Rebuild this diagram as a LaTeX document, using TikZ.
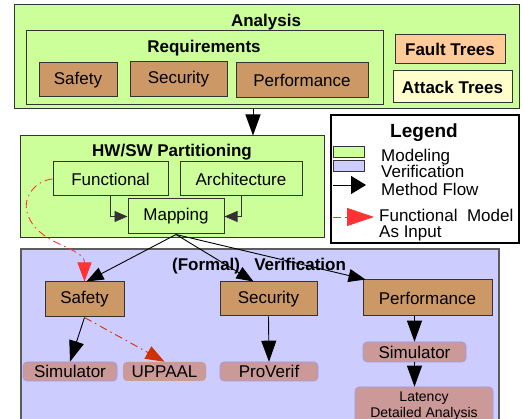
\documentclass[tikz,border=0pt]{standalone}
\usepackage{fontspec}
\setmainfont{Liberation Sans}
\usetikzlibrary{arrows.meta}

\definecolor{modelgreen}{HTML}{CCFF99}
\definecolor{verifblue}{HTML}{CCCCFF}
\definecolor{reqbrown}{HTML}{CC9966}
\definecolor{toolpink}{HTML}{CC9999}
\definecolor{faultorange}{HTML}{FFCC99}
\definecolor{attackyellow}{HTML}{FFFFCC}
\definecolor{inputred}{HTML}{FF3333}
\definecolor{uppaalred}{HTML}{CC3300}
\definecolor{boxline}{HTML}{333333}
\definecolor{toolline}{HTML}{9999EE}

\begin{document}
\begin{tikzpicture}[x=1pt,y=-1pt,
  font=\fontsize{17pt}{19pt}\selectfont,
  box/.style={draw=boxline,line width=1pt,inner sep=0pt,align=center},
  modelbox/.style={box,fill=modelgreen},
  reqbox/.style={box,fill=reqbrown},
  toolbox/.style={draw=toolline,line width=0.6pt,fill=toolpink,rounded corners=4pt,inner sep=0pt,align=center},
  title/.style={inner sep=0pt,font=\fontsize{17pt}{19pt}\selectfont\bfseries},
  keytext/.style={inner sep=0pt,anchor=west},
  flow/.style={-{Triangle[length=21pt,width=15pt]},line width=0.9pt},
  fanflow/.style={-{Triangle[length=17pt,width=13pt]},line width=0.9pt},
  mapflow/.style={-{Triangle[length=13pt,width=11pt]},line width=0.8pt,draw=boxline},
  modelinput/.style={-{Triangle[length=19pt,width=14pt]},color=inputred,line width=0.9pt,
    dash pattern=on 8pt off 4pt on 1.5pt off 4pt}]
  \useasboundingbox (0,0) rectangle (525,419);
  \clip (0,0) rectangle (525,419);

  % Analysis
  \node[modelbox,minimum width=505pt,minimum height=104pt] (analysis) at (266.5,57) {};
  \node[title] (analysistitle) at (266,22) {Analysis};
  \node[modelbox,minimum width=357pt,minimum height=74pt] (requirements) at (204.5,68) {};
  \node[title] (reqtitle) at (204,48) {Requirements};
  \node[reqbox,minimum width=78pt,minimum height=34pt] (safetyreq) at (78,80) {Safety};
  \node[reqbox,minimum width=97pt,minimum height=35pt] (securityreq) at (178.5,79.5) {Security};
  \node[reqbox,minimum width=132pt,minimum height=35pt] (perfreq) at (302,80.5) {Performance};
  \node[box,fill=faultorange,minimum width=110pt,minimum height=29pt,font=\fontsize{17pt}{19pt}\selectfont\bfseries] (faulttrees) at (450,49.5) {Fault Trees};
  \node[box,fill=attackyellow,minimum width=119pt,minimum height=32pt,font=\fontsize{17pt}{19pt}\selectfont\bfseries] (attacktrees) at (452.5,87) {Attack Trees};

  % HW/SW Partitioning
  \node[modelbox,minimum width=304pt,minimum height=102pt] (hwsw) at (172,187) {};
  \node[title] (hwswtitle) at (172,152) {HW/SW Partitioning};
  \node[modelbox,minimum width=115pt,minimum height=34pt] (functional) at (110.5,179) {Functional};
  \node[modelbox,minimum width=122pt,minimum height=34pt] (architecture) at (241,179) {Architecture};
  \node[modelbox,minimum width=96pt,minimum height=35pt] (mapping) at (176,216.5) {Mapping};

  % Legend
  \node[draw=black,line width=1.2pt,fill=white,minimum width=188pt,minimum height=128pt] (legend) at (425,179) {};
  \node[inner sep=0pt,font=\fontsize{19pt}{21pt}\selectfont\bfseries] (legendtitle) at (424,133) {Legend};
  \node[modelbox,minimum width=31pt,minimum height=11pt] (modelkey) at (348.5,152.5) {};
  \node[box,fill=verifblue,minimum width=31pt,minimum height=11pt] (verifkey) at (348.5,166.5) {};
  \node[keytext] (modeltext) at (381,157) {Modeling};
  \node[keytext] (veriftext) at (381,171) {Verification};
  \coordinate (flowstart) at (333,185);
  \coordinate (flowend) at (366,185);
  \node[keytext] (flowtext) at (381,189) {Method Flow};
  \coordinate (inputstart) at (333,217);
  \coordinate (inputend) at (374,217);
  \node[keytext] (inputtext) at (379,215) {Functional\ \ Model};
  \node[keytext] (inputtext2) at (379,233) {As Input};

  % (Formal) Verification
  \node[box,draw=boxline!80,line width=1.2pt,fill=verifblue,minimum width=478pt,minimum height=190pt] (verification) at (260,344) {};
  \node[title] (veriftitle) at (259,266) {(Formal)\ \ \ Verification};
  \node[reqbox,minimum width=79pt,minimum height=35pt] (safetyv) at (84.5,299.5) {Safety};
  \node[reqbox,minimum width=97pt,minimum height=34pt] (securityv) at (268.5,299) {Security};
  \node[reqbox,minimum width=129pt,minimum height=36pt] (perfv) at (427.5,298) {Performance};
  \node[toolbox,minimum width=94pt,minimum height=19pt] (simsafety) at (70,371.5) {Simulator};
  \node[toolbox,draw=none,minimum width=83pt,minimum height=19pt] (uppaal) at (164.5,371.5) {UPPAAL};
  \node[toolbox,minimum width=98pt,minimum height=19pt] (proverif) at (269,371.5) {ProVerif};
  \node[toolbox,minimum width=103pt,minimum height=20pt] (simperf) at (414.5,352) {Simulator};
  \node[toolbox,minimum width=138pt,minimum height=38pt,font=\fontsize{14pt}{16pt}\selectfont] (latency) at (424,406) {Latency\\Detailed Analysis};

  % Method flow
  \draw[flow] ([xshift=-13.5pt]analysis.south) -- ([xshift=-13.5pt]analysis.south |- hwsw.north);
  \draw[mapflow] (functional.south) |- (mapping.west);
  \draw[mapflow] (architecture.south) |- (mapping.east);
  \draw[fanflow] (mapping.south) -- ([xshift=2pt]safetyv.north);
  \draw[fanflow] (mapping.south) -- ([xshift=-15pt]securityv.north);
  \draw[fanflow] (mapping.south) -- ([xshift=3pt]perfv.north west);
  \draw[flow] (safetyv.south) -- (simsafety.north);
  \draw[flow] (securityv.south) -- (proverif.north);
  \draw[flow] (simperf.north |- perfv.south) -- (simperf.north);
  \draw[flow] (simperf.south) -- (simperf.south |- latency.north);
  \draw[flow,-{Triangle[length=15pt,width=18pt]}] (flowstart) -- (flowend);

  % Functional model as input
  \draw[modelinput] (functional.west) to[out=185,in=105] (27,212) to[out=-75,in=90] (safetyv.north);
  \draw[modelinput,color=uppaalred] (safetyv.south) -- (uppaal.north);
  \draw[modelinput,-{Triangle[length=27pt,width=18pt]}] (inputstart) -- (inputend);
\end{tikzpicture}
\end{document}
